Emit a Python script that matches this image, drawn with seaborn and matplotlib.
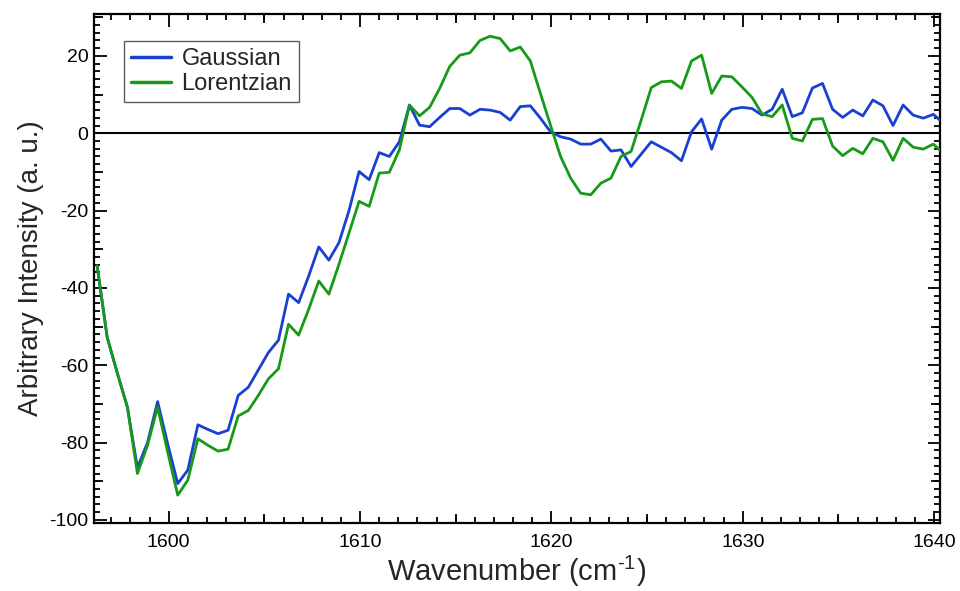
import numpy as np
import pandas as pd
import matplotlib
matplotlib.use("Agg")
import matplotlib.pyplot as plt
import seaborn as sns
from matplotlib.ticker import MultipleLocator

# ---- data ----
x_start = 1596.26
x_step = 0.5265
gaussian = [
    -34.3, -52.8, -62.0, -70.8, -86.5, -80.0, -69.4, -80.3, -90.6, -87.1,
    -75.4, -76.6, -77.7, -76.8, -67.8, -65.7, -61.2, -56.7, -53.5, -41.6,
    -43.8, -36.9, -29.4, -32.8, -28.3, -20.0, -9.9, -12.0, -5.0, -6.0,
    -2.2, 7.3, 2.1, 1.7, 4.1, 6.4, 6.4, 4.7, 6.2, 6.0,
    5.4, 3.4, 6.9, 7.1, 3.9, 0.4, -0.9, -1.5, -2.8, -2.8,
    -1.5, -4.6, -4.3, -8.6, -5.4, -2.2, -3.6, -5.0, -7.1, 0.4,
    3.7, -4.1, 3.4, 6.2, 6.7, 6.4, 4.7, 6.2, 11.4, 4.3,
    5.3, 11.7, 12.9, 6.2, 4.1, 6.0, 4.5, 8.6, 7.1, 2.0,
    7.3, 4.7, 3.9, 4.9, 2.6,
]
lorentzian = [
    -34.3, -52.8, -62.0, -70.8, -88.0, -80.7, -70.8, -82.4, -93.6, -89.7,
    -79.0, -80.7, -82.2, -81.7, -73.1, -71.7, -67.8, -63.5, -60.9, -49.4,
    -52.2, -45.5, -38.2, -41.6, -33.9, -25.8, -17.6, -18.9, -10.3, -10.1,
    -4.3, 7.3, 4.5, 6.7, 11.6, 17.3, 20.2, 20.8, 24.0, 25.1,
    24.5, 21.3, 22.3, 18.7, 10.3, 2.1, -6.0, -11.6, -15.5, -15.9,
    -12.9, -11.6, -6.0, -4.7, 3.4, 11.8, 13.3, 13.5, 11.6, 18.7,
    20.2, 10.3, 14.8, 14.6, 12.0, 9.3, 5.0, 4.3, 7.3, -1.3,
    -2.0, 3.6, 3.8, -3.3, -5.8, -3.9, -5.3, -1.3, -2.2, -7.0,
    -1.3, -3.6, -4.1, -2.8, -5.2,
]
series_names = ["Gaussian", "Lorentzian"]
series_colors = ["#1a40d2", "#179a17"]
x_ticks = [1600, 1610, 1620, 1630, 1640]
x_mid_ticks = [1605, 1615, 1625, 1635]
y_ticks = [-100, -80, -60, -40, -20, 0, 20]
y_mid_ticks = [-90, -70, -50, -30, -10, 10, 30]

wavenumber = x_start + x_step * np.arange(len(gaussian))
df = pd.DataFrame({
    "Wavenumber": np.concatenate([wavenumber, wavenumber]),
    "Intensity": np.concatenate([gaussian, lorentzian]),
    "Model": [series_names[0]] * len(gaussian) + [series_names[1]] * len(lorentzian),
})

sns.set_style("ticks")
plt.rcParams["font.family"] = ["Liberation Sans", "DejaVu Sans"]
plt.rcParams["axes.unicode_minus"] = False
plt.rcParams["mathtext.fontset"] = "custom"
plt.rcParams["mathtext.rm"] = "Liberation Sans"
plt.rcParams["mathtext.it"] = "Liberation Sans"
plt.rcParams["mathtext.sf"] = "Liberation Sans"

fig = plt.figure(figsize=(9.6, 5.91), dpi=100)
ax = fig.add_axes([0.098, 0.115, 0.881, 0.861])

ax.axhline(0, color="black", lw=1.5, zorder=1)
sns.lineplot(data=df, x="Wavenumber", y="Intensity", hue="Model",
             palette=dict(zip(series_names, series_colors)), lw=2.0,
             ax=ax, zorder=3)

ax.set_xlim(1596.1, 1640.3)
ax.set_ylim(-100.8, 30.8)
ax.set_xticks(x_ticks)
ax.set_yticks(y_ticks)
ax.xaxis.set_minor_locator(MultipleLocator(1))
ax.yaxis.set_minor_locator(MultipleLocator(2))
ax.tick_params(which="both", direction="in", top=True, right=True,
               width=1.3, colors="black")
ax.tick_params(which="major", length=9, labelsize=14)
ax.tick_params(axis="x", which="major", pad=8)
ax.tick_params(axis="y", which="major", pad=4)
ax.tick_params(which="minor", length=4)
for s in ax.spines.values():
    s.set_linewidth(1.6)
    s.set_color("black")

# intermediate-length ticks
for loc in ("bottom", "top"):
    sec = ax.secondary_xaxis(loc)
    sec.set_xticks(x_mid_ticks)
    sec.tick_params(direction="in", length=6.5, width=1.3, labelbottom=False,
                    labeltop=False, colors="black")
    sec.spines[loc].set_visible(False)
for loc in ("left", "right"):
    sec = ax.secondary_yaxis(loc)
    sec.set_yticks(y_mid_ticks)
    sec.tick_params(direction="in", length=6.5, width=1.3, labelleft=False,
                    labelright=False, colors="black")
    sec.spines[loc].set_visible(False)

ax.set_xlabel(r"Wavenumber (cm$^{\text{-1}}$)", fontsize=21, labelpad=2)
ax.set_ylabel("Arbitrary Intensity (a. u.)", fontsize=20, labelpad=4)

leg = ax.legend(loc="upper left", bbox_to_anchor=(0.035, 0.947), borderaxespad=0,
                fontsize=17, frameon=True, fancybox=False, handlelength=1.7,
                handletextpad=0.45, labelspacing=0.12, borderpad=0.3,
                title=None)
leg.get_frame().set_edgecolor("#333333")
leg.get_frame().set_linewidth(1.0)
for line in leg.get_lines():
    line.set_linewidth(2.5)

fig.savefig("out.png", dpi=100)
